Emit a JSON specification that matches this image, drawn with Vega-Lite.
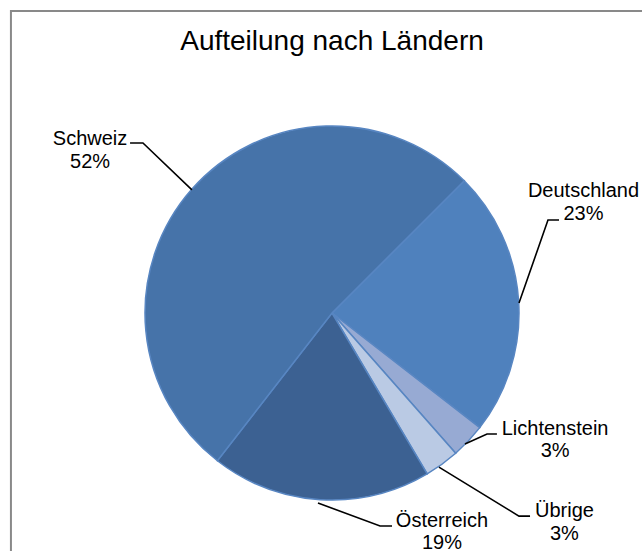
{
  "$schema": "https://vega.github.io/schema/vega-lite/v6.json",
  "autosize": {"type": "none"},
  "width": 620,
  "height": 476,
  "padding": {"left": 22, "top": 75, "right": 0, "bottom": 0},
  "background": "white",
  "config": {"view": {"stroke": null}},
  "title": {
    "text": "Aufteilung nach Ländern",
    "font": "Liberation Sans",
    "fontSize": 28,
    "fontWeight": "normal",
    "color": "#000000",
    "anchor": "middle",
    "frame": "group",
    "baseline": "bottom",
    "offset": -74
  },
  "datasets": {
    "slices": [
      {"name": "Deutschland", "value": 23, "ord": 1},
      {"name": "Lichtenstein", "value": 3, "ord": 2},
      {"name": "Übrige", "value": 3, "ord": 3},
      {"name": "Österreich", "value": 19, "ord": 4},
      {"name": "Schweiz", "value": 52, "ord": 5}
    ],
    "labels": [
      {"name": "Schweiz", "label": "Schweiz\n52%", "lx": -1.294, "ly": 0.898},
      {"name": "Deutschland", "label": "Deutschland\n23%", "lx": 1.345, "ly": 0.620},
      {"name": "Lichtenstein", "label": "Lichtenstein\n3%", "lx": 1.193, "ly": -0.652},
      {"name": "Übrige", "label": "Übrige\n3%", "lx": 1.243, "ly": -1.091},
      {"name": "Österreich", "label": "Österreich\n19%", "lx": 0.588, "ly": -1.144}
    ],
    "leaders": [
      {"name": "Schweiz", "seq": 1, "px": -1.080, "py": 0.909},
      {"name": "Schweiz", "seq": 2, "px": -1.011, "py": 0.909},
      {"name": "Schweiz", "seq": 3, "px": -0.749, "py": 0.658},
      {"name": "Deutschland", "seq": 1, "px": 1.214, "py": 0.497},
      {"name": "Deutschland", "seq": 2, "px": 1.155, "py": 0.497},
      {"name": "Deutschland", "seq": 3, "px": 1.000, "py": 0.053},
      {"name": "Lichtenstein", "seq": 1, "px": 0.882, "py": -0.647},
      {"name": "Lichtenstein", "seq": 2, "px": 0.829, "py": -0.647},
      {"name": "Lichtenstein", "seq": 3, "px": 0.711, "py": -0.701},
      {"name": "Übrige", "seq": 1, "px": 1.059, "py": -1.086},
      {"name": "Übrige", "seq": 2, "px": 1.000, "py": -1.086},
      {"name": "Übrige", "seq": 3, "px": 0.572, "py": -0.824},
      {"name": "Österreich", "seq": 1, "px": 0.321, "py": -1.139},
      {"name": "Österreich", "seq": 2, "px": 0.257, "py": -1.139},
      {"name": "Österreich", "seq": 3, "px": -0.075, "py": -1.016}
    ]
  },
  "layer": [
    {
      "data": {"values": [{}]},
      "mark": {"type": "rect", "fill": null, "stroke": "#898989", "strokeWidth": 2},
      "encoding": {
        "x": {"datum": -1.717, "type": "quantitative", "scale": {"domain": [-1.6578, 1.6578], "nice": false, "zero": false}, "axis": null},
        "x2": {"datum": 1.75},
        "y": {"datum": 1.615, "type": "quantitative", "scale": {"domain": [-1.2727, 1.2727], "nice": false, "zero": false}, "axis": null},
        "y2": {"datum": -1.35}
      }
    },
    {
      "data": {"name": "slices"},
      "mark": {"type": "arc", "outerRadius": 187, "stroke": "#5886C2", "strokeWidth": 1.5},
      "encoding": {
        "theta": {"field": "value", "type": "quantitative", "stack": true, "scale": {"range": [0.7854, 7.0686]}},
        "order": {"field": "ord", "type": "quantitative"},
        "color": {
          "field": "name",
          "type": "nominal",
          "legend": null,
          "scale": {
            "domain": ["Schweiz", "Deutschland", "Lichtenstein", "Übrige", "Österreich"],
            "range": ["#4673A9", "#4F81BD", "#97AAD3", "#BACAE4", "#3C6192"]
          }
        }
      }
    },
    {
      "data": {"name": "leaders"},
      "mark": {"type": "line", "color": "#000000", "strokeWidth": 1.6},
      "encoding": {
        "x": {"field": "px", "type": "quantitative"},
        "y": {"field": "py", "type": "quantitative"},
        "detail": {"field": "name"},
        "order": {"field": "seq", "type": "quantitative"}
      }
    },
    {
      "data": {"name": "labels"},
      "mark": {
        "type": "text",
        "font": "Liberation Sans",
        "fontSize": 20,
        "color": "#000000",
        "align": "center",
        "baseline": "alphabetic",
        "lineBreak": "\n",
        "lineHeight": 22.5
      },
      "encoding": {
        "x": {"field": "lx", "type": "quantitative"},
        "y": {"field": "ly", "type": "quantitative"},
        "text": {"field": "label"}
      }
    }
  ]
}
